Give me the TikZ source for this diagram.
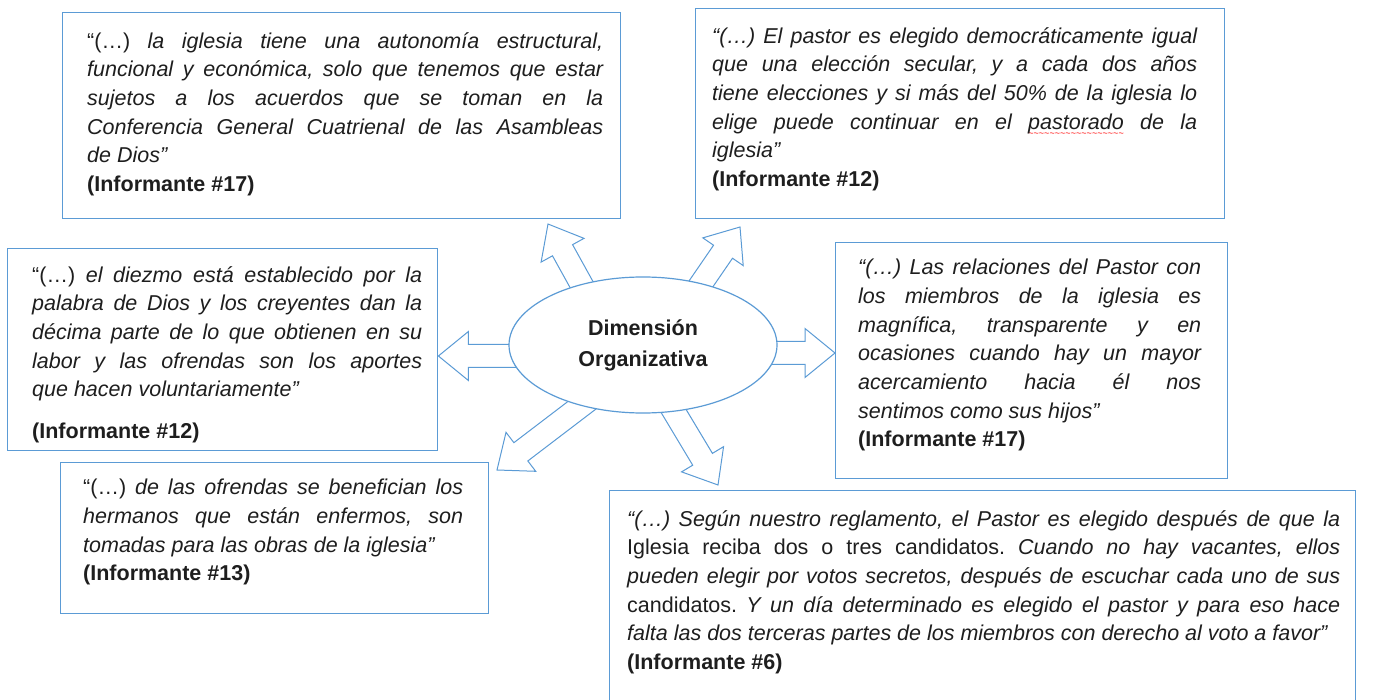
\documentclass[tikz,border=0pt]{standalone}
\usepackage{fontspec}
\setmainfont{Liberation Sans}
\usetikzlibrary{shapes.geometric,calc,backgrounds}

\definecolor{boxblue}{RGB}{91,155,213}
\definecolor{inkgray}{RGB}{30,30,30}

\setlength{\parindent}{0pt}
\tolerance=10000
\hbadness=10000
\hyphenpenalty=10000
\exhyphenpenalty=10000
\frenchspacing

% red spell-check wave under a word
\newcommand{\redwave}[1]{\setbox0\hbox{#1}\rlap{\raisebox{-7.5pt}{\hbox to \wd0{\color{red}\fontsize{9}{9}\selectfont\upshape\xleaders\hbox{\char"7E}\hfill}}}\box0\relax}

% hollow block arrow from #1 to the tip #2
\newcommand{\blockarrow}[2]{%
  \coordinate (hb) at ($(#2)!30pt!(#1)$);
  \draw[arrowline] ($(#1)!11.5pt!90:(#2)$) -- ($(hb)!11.5pt!90:(#2)$) -- ($(hb)!24.5pt!90:(#2)$) -- (#2) -- ($(hb)!24.5pt!-90:(#2)$) -- ($(hb)!11.5pt!-90:(#2)$) -- ($(#1)!11.5pt!-90:(#2)$) -- cycle;}

\begin{document}
\begin{tikzpicture}[x=1pt,y=1pt,yscale=-1,xscale=1,
    quotebox/.style={draw=boxblue, line width=1.4pt, anchor=north west, inner sep=0pt},
    quotetext/.style={anchor=north west, inner sep=0pt, align=justify, text=inkgray, font=\fontsize{21.5}{28.7}\selectfont},
    arrowline/.style={draw=boxblue, line width=1pt, fill=white, line join=miter}]
\useasboundingbox (0,0) rectangle (1376,700);

%Shape: Rectangle [top left]
\node[quotebox, minimum width=558pt, minimum height=206pt] (b1) at (62,12) {};
% Text Node
\node[quotetext, text width=516pt] (q1) at ([xshift=25pt,yshift=20pt]b1.north west)
  {“(…) {\itshape la iglesia tiene una autonomía estructural,\linebreak funcional y económica, solo que tenemos que estar\linebreak sujetos a los acuerdos que se toman en la\linebreak Conferencia General Cuatrienal de las Asambleas\linebreak de Dios”}\\ \textbf{(Informante \#17)}};

%Shape: Rectangle [top right]
\node[quotebox, minimum width=529pt, minimum height=210pt] (b2) at (695,8) {};
% Text Node
\node[quotetext, text width=485pt] (q2) at ([xshift=17pt,yshift=19pt]b2.north west)
  {{\itshape “(…) El pastor es elegido democráticamente igual\linebreak que una elección secular, y a cada dos años\linebreak tiene elecciones y si más del 50\% de la iglesia lo\linebreak elige puede continuar en el \redwave{pastorado} de la\linebreak iglesia”}\\ \textbf{(Informante \#12)}};

%Shape: Rectangle [middle left]
\node[quotebox, minimum width=430pt, minimum height=202pt] (b3) at (7,248) {};
% Text Node
\node[quotetext, text width=390pt] (q3) at ([xshift=25pt,yshift=18pt]b3.north west)
  {“(…) {\itshape el diezmo está establecido por la\linebreak palabra de Dios y los creyentes dan la\linebreak décima parte de lo que obtienen en su\linebreak labor y las ofrendas son los aportes\linebreak que hacen voluntariamente”}\\[13pt] \textbf{(Informante \#12)}};

%Shape: Rectangle [middle right]
\node[quotebox, minimum width=392pt, minimum height=236pt] (b4) at (835,242) {};
% Text Node
\node[quotetext, text width=343pt] (q4) at ([xshift=23pt,yshift=17pt]b4.north west)
  {{\itshape “(…) Las relaciones del Pastor con\linebreak los miembros de la iglesia es\linebreak magnífica, transparente y en\linebreak ocasiones cuando hay un mayor\linebreak acercamiento hacia él nos\linebreak sentimos como sus hijos”}\\ \textbf{(Informante \#17)}};

%Shape: Rectangle [bottom left]
\node[quotebox, minimum width=428pt, minimum height=151pt] (b5) at (60,462) {};
% Text Node
\node[quotetext, text width=380pt] (q5) at ([xshift=23pt,yshift=17pt]b5.north west)
  {“(…) {\itshape de las ofrendas se benefician los\linebreak hermanos que están enfermos, son\linebreak tomadas para las obras de la iglesia”}\\ \textbf{(Informante \#13)}};

%Shape: Rectangle [bottom right, runs off the page]
\node[quotebox, minimum width=746pt, minimum height=215pt] (b6) at (609,490) {};
% Text Node
\node[quotetext, text width=713pt] (q6) at ([xshift=18pt,yshift=20pt]b6.north west)
  {{\itshape “(…) Según nuestro reglamento, el Pastor es elegido después de que la}\linebreak Iglesia reciba dos o tres candidatos. {\itshape Cuando no hay vacantes, ellos\linebreak pueden elegir por votos secretos, después de escuchar cada uno de sus}\linebreak candidatos. {\itshape Y un día determinado es elegido el pastor y para eso hace\linebreak falta las dos terceras partes de los miembros con derecho al voto a favor”}\\ \textbf{(Informante \#6)}};

%Shape: Ellipse
\node[ellipse, draw=boxblue, line width=1.2pt, fill=white, minimum width=268pt, minimum height=136pt, inner sep=0pt, align=center, text=inkgray, font=\bfseries\fontsize{21.5}{31}\selectfont] (dim) at (643,345) {Dimensión\\Organizativa};

%Block arrows
\begin{scope}[on background layer]
  \coordinate (s1) at ($(dim.center)+(-28,0)$);  \coordinate (t1) at (548,224);
  \coordinate (s2) at ($(dim.center)+(16,0)$);   \coordinate (t2) at (740,227);
  \coordinate (s3) at ($(dim.center)+(-43,11)$); \coordinate (t3) at (b3.east |- 0,356);
  \coordinate (s4) at ($(dim.center)+(47,8)$);   \coordinate (t4) at (b4.west |- 0,353);
  \coordinate (s5) at ($(dim.center)+(18,0)$);   \coordinate (t5) at (497,470);
  \coordinate (s6) at ($(dim.center)+(-9,0)$);   \coordinate (t6) at (718,485);
  \blockarrow{s1}{t1}
  \blockarrow{s2}{t2}
  \blockarrow{s3}{t3}
  \blockarrow{s4}{t4}
  \blockarrow{s5}{t5}
  \blockarrow{s6}{t6}
\end{scope}

\end{tikzpicture}
\end{document}
